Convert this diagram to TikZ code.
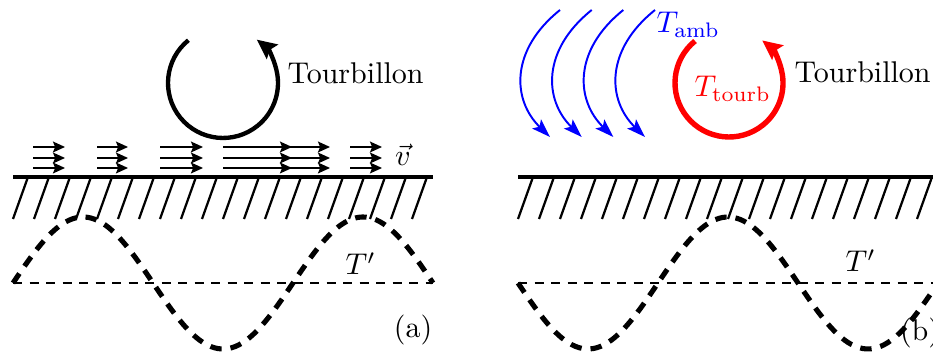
\documentclass[tikz,border=0pt]{standalone}
\usetikzlibrary{arrows.meta}
\begin{document}
\begin{tikzpicture}[x=0.333333pt,y=0.333333pt,
  every node/.style={inner sep=0pt},
  ground/.style={line width=1.6pt},
  hatch/.style={line width=0.75pt},
  flow/.style={line width=0.65pt,-{Stealth[length=4pt,width=3.6pt,inset=0.7pt]}},
  vortex/.style={line width=1.45pt,-{Stealth[length=6.5pt,width=6pt,inset=1pt]}},
  redvortex/.style={line width=1.8pt,red,-{Stealth[length=6.5pt,width=6pt,inset=1pt]}},
  amb/.style={line width=0.65pt,blue,-{Stealth[length=6.2pt,width=4.2pt,inset=1.3pt]}},
  axisdash/.style={line width=0.8pt,dash pattern=on 3pt off 2.5pt},
  wave/.style={line width=1.7pt,dash pattern=on 3.8pt off 3pt}]
\useasboundingbox (0,0) rectangle (933,352);
\clip (0,0) rectangle (933,352);
% ---------- panel (a) ----------
\draw[ground] (13,175) -- (433,175);
\foreach \i in {0,...,19}
  \draw[hatch] ({13+21*\i},133) -- ({28+21*\i},175);
\foreach \y in {205,194,184}{
  \draw[flow] (33,\y) -- (65,\y);
  \draw[flow] (97,\y) -- (128,\y);
  \draw[flow] (160,\y) -- (203,\y);
  \draw[flow] (223,\y) -- (292,\y);
  \draw[flow] (223,\y) -- (330,\y);
  \draw[flow] (350,\y) -- (382,\y);
}
\node (va) at (403,197) {$\vec{v}$};
\draw[vortex] (223,269) ++(129:55) arc[start angle=129,end angle=412,radius=18.33pt];
\node[anchor=base west] (ta) at (287,268) {Tourbillon};
\draw[axisdash] (13,69) -- (433,69);
\draw[wave] plot[domain=13:433,samples=120,smooth] (\x,{69+66*sin(1.285714*(\x-13))});
\node[anchor=base west] (tpa) at (345,77) {$T'$};
\node (la) at (413,22) {(a)};
% ---------- panel (b) ----------
\draw[ground] (518,175) -- (945,175);
\foreach \i in {0,...,20}
  \draw[hatch] ({518+21*\i},133) -- ({533+21*\i},175);
\foreach \d in {0,31.7,63.3,95}
  \draw[amb] ({560+\d},342) .. controls ({510+\d},302) and ({512+\d},252) .. ({550+\d},215);
\node[anchor=base west,blue] (tamb) at (656,319) {$T_{\mathrm{amb}}$};
\draw[redvortex] (729,269) ++(129:54) arc[start angle=129,end angle=412,radius=18pt];
\node[anchor=base west,red] (ttourb) at (694,255) {$T_{\mathrm{tourb}}$};
\node[anchor=base west] (tb) at (794,269) {Tourbillon};
\draw[axisdash] (518,69) -- (945,69);
\draw[wave] plot[domain=518:945,samples=120,smooth] (\x,{69-66*sin(1.285714*(\x-518))});
\node[anchor=base west] (tpb) at (845,80) {$T'$};
\node (lb) at (920,19) {(b)};
\end{tikzpicture}
\end{document}
